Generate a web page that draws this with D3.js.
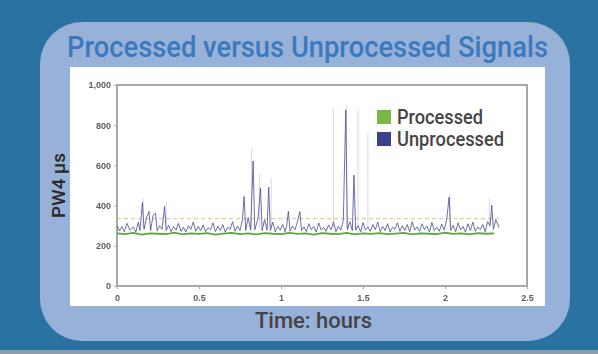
<!DOCTYPE html>
<html>
<head>
<meta charset="utf-8">
<script src="https://cdn.jsdelivr.net/npm/d3@7"></script>
<style>
  html, body { margin: 0; padding: 0; background: #2a72a2; }
  svg { display: block; }
</style>
</head>
<body>
<div id="chart"></div>
<script>
// == Data ====================================================================

const chartTitle = 'Processed versus Unprocessed Signals'
const seriesNames = ['Processed', 'Unprocessed']
const xTicks = [0, 0.5, 1, 1.5, 2, 2.5]
const yTicks = [0, 200, 400, 600, 800, 1000]
const thresholdValue = 335

// [hours, PW4 µs]
const processed = [
  [0.00, 262], [0.05, 258], [0.10, 264], [0.15, 256], [0.20, 262], [0.25, 260],
  [0.30, 258], [0.35, 265], [0.40, 257], [0.45, 262], [0.50, 259], [0.55, 263],
  [0.60, 256], [0.65, 261], [0.70, 264], [0.75, 258], [0.80, 262], [0.85, 257],
  [0.90, 263], [0.95, 260], [1.00, 258], [1.05, 264], [1.10, 259], [1.15, 262],
  [1.20, 256], [1.25, 263], [1.30, 260], [1.35, 258], [1.40, 264], [1.45, 257],
  [1.50, 262], [1.55, 259], [1.60, 263], [1.65, 258], [1.70, 261], [1.75, 264],
  [1.80, 257], [1.85, 262], [1.90, 260], [1.95, 258], [2.00, 265], [2.05, 259],
  [2.10, 262], [2.15, 257], [2.20, 263], [2.25, 260], [2.30, 262]
]

const unprocessed = [
  [0.00, 300], [0.015, 274], [0.03, 296], [0.045, 270], [0.06, 312], [0.08, 278],
  [0.10, 294], [0.115, 268], [0.13, 318], [0.14, 276], [0.155, 415], [0.165, 282],
  [0.18, 340], [0.195, 372], [0.205, 276], [0.22, 352], [0.235, 362], [0.245, 274],
  [0.26, 300], [0.275, 282], [0.29, 396], [0.30, 276], [0.315, 302], [0.33, 270],
  [0.345, 296], [0.36, 278], [0.375, 312], [0.39, 272], [0.405, 292], [0.42, 268],
  [0.435, 300], [0.45, 282], [0.465, 318], [0.48, 272], [0.495, 296], [0.51, 276],
  [0.525, 304], [0.54, 270], [0.555, 290], [0.57, 280], [0.585, 314], [0.60, 270],
  [0.615, 298], [0.63, 276], [0.645, 306], [0.66, 268], [0.675, 292], [0.69, 282],
  [0.705, 320], [0.72, 272], [0.735, 298], [0.75, 276], [0.765, 330], [0.775, 446],
  [0.785, 276], [0.80, 340], [0.815, 278], [0.83, 622], [0.84, 280], [0.86, 336],
  [0.875, 488], [0.885, 276], [0.90, 330], [0.915, 278], [0.925, 492], [0.935, 276],
  [0.95, 318], [0.965, 270], [0.98, 296], [0.995, 278], [1.01, 306], [1.025, 270],
  [1.035, 300], [1.045, 372], [1.055, 274], [1.07, 298], [1.085, 280], [1.10, 318],
  [1.115, 370], [1.125, 276], [1.14, 294], [1.155, 270], [1.17, 310], [1.185, 280],
  [1.20, 296], [1.215, 268], [1.23, 314], [1.245, 278], [1.26, 292], [1.275, 272],
  [1.29, 304], [1.305, 280], [1.32, 318], [1.335, 270], [1.35, 298], [1.365, 278],
  [1.38, 326], [1.395, 876], [1.405, 280], [1.42, 320], [1.435, 276], [1.445, 552],
  [1.455, 278], [1.47, 300], [1.485, 270], [1.50, 316], [1.515, 278], [1.53, 294],
  [1.545, 272], [1.56, 306], [1.575, 280], [1.59, 318], [1.605, 270], [1.62, 296],
  [1.635, 276], [1.65, 310], [1.665, 268], [1.68, 292], [1.695, 282], [1.71, 314],
  [1.725, 272], [1.74, 300], [1.755, 276], [1.77, 306], [1.785, 270], [1.80, 320],
  [1.815, 278], [1.83, 294], [1.845, 272], [1.86, 310], [1.875, 280], [1.89, 298],
  [1.905, 268], [1.92, 316], [1.935, 276], [1.95, 292], [1.965, 272], [1.98, 308],
  [1.995, 278], [2.01, 330], [2.025, 442], [2.035, 276], [2.05, 302], [2.065, 270],
  [2.08, 314], [2.095, 280], [2.11, 296], [2.125, 268], [2.14, 310], [2.155, 276],
  [2.17, 318], [2.185, 272], [2.20, 294], [2.215, 280], [2.23, 306], [2.245, 270],
  [2.26, 320], [2.275, 300], [2.285, 402], [2.295, 282], [2.31, 330], [2.33, 290]
]

// faint background traces (light lavender)
const faintSpikes = [
  [0.16, 440], [0.30, 420], [0.82, 680], [0.87, 560], [0.94, 540],
  [1.32, 880], [1.40, 900], [1.47, 880], [1.53, 760], [2.03, 460], [2.27, 440]
]

// == Layout ==================================================================

const width = 598
const height = 354
const plot = { left: 117, right: 527, top: 85, bottom: 286 }

const svg = d3.select('#chart').append('svg')
  .attr('width', width)
  .attr('height', height)

const defs = svg.append('defs')
defs.append('filter').attr('id', 'soft')
  .append('feGaussianBlur').attr('stdDeviation', 0.5)
defs.append('filter').attr('id', 'blurry')
  .attr('x', '-20%').attr('y', '-20%').attr('width', '140%').attr('height', '140%')
  .append('feGaussianBlur').attr('stdDeviation', 0.7)

// background + rounded panel
svg.append('rect').attr('width', width).attr('height', height).attr('fill', '#2a72a2')
svg.append('rect').attr('x', 0).attr('y', 350).attr('width', width).attr('height', 4)
  .attr('fill', '#8a9cae')
svg.append('rect')
  .attr('x', 40).attr('y', 22).attr('width', 530).attr('height', 319)
  .attr('rx', 42).attr('ry', 42)
  .attr('fill', '#98b1d9')

// white plot card
svg.append('rect')
  .attr('x', 70).attr('y', 67).attr('width', 475).attr('height', 239)
  .attr('fill', '#ffffff')

// title
svg.append('text')
  .attr('x', 67).attr('y', 57)
  .attr('textLength', 481).attr('lengthAdjust', 'spacingAndGlyphs')
  .attr('font-family', 'Roboto, Arial, sans-serif')
  .attr('font-size', 29)
  .attr('font-weight', 500)
  .attr('fill', '#3b79bf')
  .text(chartTitle)

// == Scales ==================================================================

const x = d3.scaleLinear().domain([0, 2.5]).range([plot.left, plot.right])
const y = d3.scaleLinear().domain([0, 1000]).range([plot.bottom, plot.top])

// axes (ticks are tiny and soft in the reference)
const xAxis = svg.append('g')
  .attr('transform', `translate(0,${plot.bottom})`)
  .call(d3.axisBottom(x).tickValues(xTicks).tickSize(3).tickFormat(d3.format('')))
const yAxis = svg.append('g')
  .attr('transform', `translate(${plot.left},0)`)
  .call(d3.axisLeft(y).tickValues(yTicks).tickSize(3).tickFormat(d3.format(',')))

;[xAxis, yAxis].forEach(function (g) {
  g.select('.domain').remove()
  g.selectAll('line').attr('stroke', '#b0b0b0')
  g.selectAll('text')
    .attr('font-family', 'Arial, sans-serif')
    .attr('font-size', 9)
    .attr('font-weight', 'bold')
    .attr('fill', '#5e5e5e')
    .attr('filter', 'url(#blurry)')
})
xAxis.selectAll('text').attr('dy', '0.95em')

// frame
svg.append('rect')
  .attr('x', plot.left).attr('y', plot.top)
  .attr('width', plot.right - plot.left).attr('height', plot.bottom - plot.top)
  .attr('fill', 'none').attr('stroke', '#a8a8a8').attr('stroke-width', 2)
  .attr('filter', 'url(#soft)')

// == Marks ===================================================================

const marks = svg.append('g').attr('filter', 'url(#soft)')

marks.selectAll('line.faint')
  .data(faintSpikes)
  .join('line')
  .attr('class', 'faint')
  .attr('x1', d => x(d[0])).attr('x2', d => x(d[0]))
  .attr('y1', y(290)).attr('y2', d => y(d[1]))
  .attr('stroke', '#d8d4ee').attr('stroke-width', 1)

const line = d3.line()
  .x(d => x(d[0]))
  .y(d => y(d[1]))

marks.append('line')
  .attr('x1', x(0)).attr('x2', x(2.33))
  .attr('y1', y(thresholdValue)).attr('y2', y(thresholdValue))
  .attr('stroke', '#e2c08a').attr('stroke-width', 1)
  .attr('stroke-dasharray', '4,3')

marks.append('path')
  .datum(processed)
  .attr('d', line)
  .attr('fill', 'none')
  .attr('stroke', '#5aa83c')
  .attr('stroke-width', 1.8)

marks.append('path')
  .datum(unprocessed)
  .attr('d', line)
  .attr('fill', 'none')
  .attr('stroke', '#4a4c94')
  .attr('stroke-width', 1)
  .attr('stroke-opacity', 0.8)

// == Legend ==================================================================

const legendColors = ['#7ab648', '#3b3f8e']
const legend = svg.append('g').attr('transform', 'translate(377,110)')
legend.selectAll('rect')
  .data(seriesNames)
  .join('rect')
  .attr('x', 0).attr('y', (d, i) => i * 22)
  .attr('width', 14).attr('height', 14)
  .attr('fill', (d, i) => legendColors[i])
legend.selectAll('text')
  .data(seriesNames)
  .join('text')
  .attr('x', 20).attr('y', (d, i) => 14 + i * 22)
  .attr('textLength', (d, i) => i === 0 ? 86 : 107)
  .attr('lengthAdjust', 'spacingAndGlyphs')
  .attr('font-family', 'Roboto, Arial, sans-serif')
  .attr('font-size', 20)
  .attr('font-weight', 500)
  .attr('fill', '#454545')
  .text(d => d)

// == Axis titles =============================================================

svg.append('text')
  .attr('transform', 'translate(65,218) rotate(-90)')
  .attr('textLength', 65).attr('lengthAdjust', 'spacingAndGlyphs')
  .attr('font-family', 'Roboto, Arial, sans-serif')
  .attr('font-size', 18)
  .attr('font-weight', 500)
  .attr('fill', '#2a2a2a')
  .text('PW4 µs')

svg.append('text')
  .attr('x', 255).attr('y', 328)
  .attr('textLength', 117).attr('lengthAdjust', 'spacingAndGlyphs')
  .attr('font-family', 'Roboto, Arial, sans-serif')
  .attr('font-size', 22)
  .attr('font-weight', 500)
  .attr('fill', '#444444')
  .text('Time: hours')
</script>
</body>
</html>
